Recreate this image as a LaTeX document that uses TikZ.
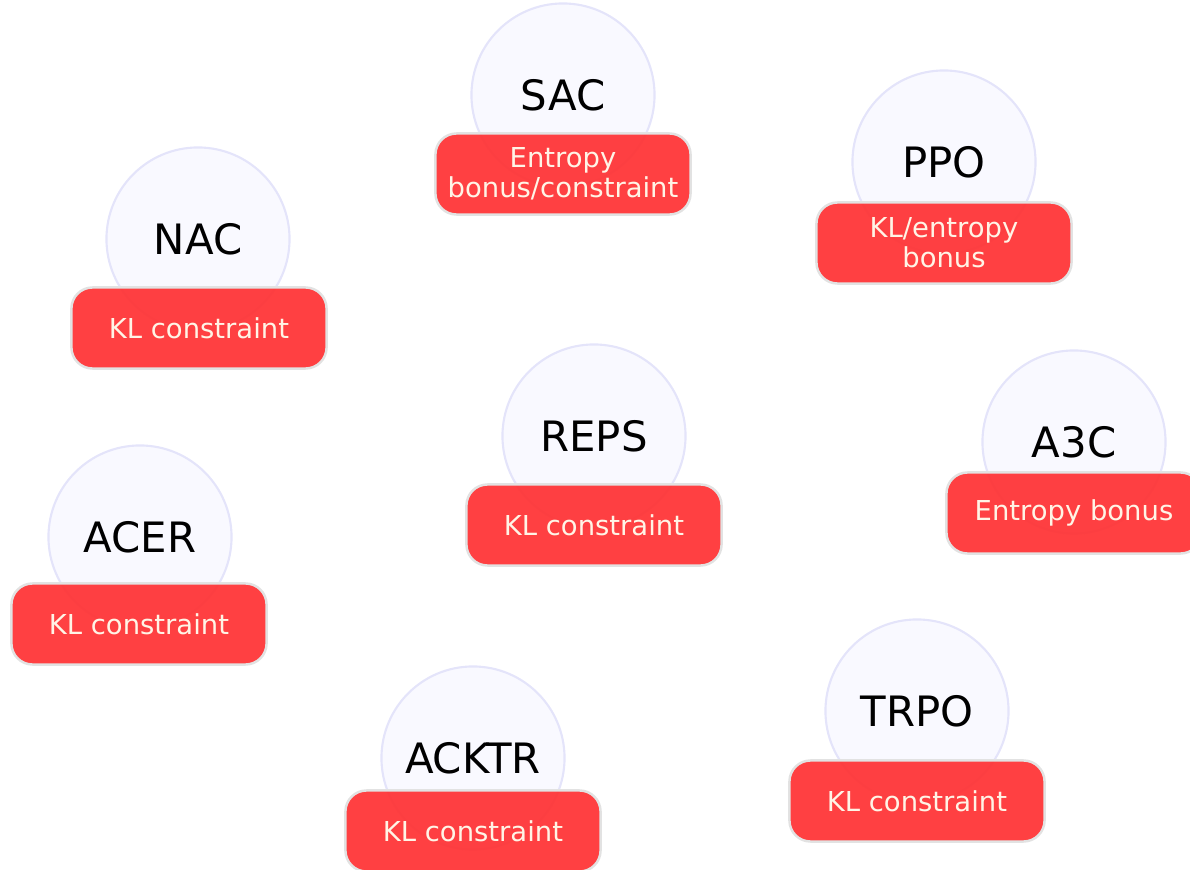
\documentclass[tikz,border=0pt]{standalone}
\usepackage{fontspec}
\setmainfont{DejaVu Sans}
\definecolor{ghostlav}{RGB}{249,249,255}
\definecolor{lavline}{RGB}{228,228,250}
\definecolor{boxred}{RGB}{255,48,50}
\definecolor{boxedge}{RGB}{226,226,226}
\definecolor{cream}{RGB}{255,244,230}

\begin{document}
\begin{tikzpicture}[x=0.01cm,y=-0.01cm,
	algo/.style={circle,draw=lavline,line width=0.6pt,fill=ghostlav,minimum size=1.83cm,inner sep=0pt,font=\fontsize{11.9}{14}\selectfont},
	reg/.style={rectangle,rounded corners=6pt,draw=boxedge,line width=0.7pt,fill=boxred,fill opacity=0.92,text opacity=1,text=cream,minimum width=2.55cm,minimum height=0.81cm,align=center,inner sep=0pt,font=\fontsize{7.8}{8.6}\selectfont}]
\useasboundingbox (0,0) rectangle (1190,870);
% top row
\node[algo] (sac) at (563,95) {SAC};
\node[reg] (sacr) at (563,174) {Entropy\\bonus/constraint};
\node[algo] (ppo) at (944,162) {PPO};
\node[reg] (ppor) at (944,243) {KL/entropy\\bonus};
\node[algo] (nac) at (198,239) {NAC};
\node[reg] (nacr) at (199,328) {KL constraint};
% middle
\node[algo] (reps) at (594,436) {REPS};
\node[reg] (repsr) at (594,525) {KL constraint};
\node[algo] (atc) at (1074,442) {A3C};
\node[reg] (atcr) at (1074,513) {Entropy bonus};
\node[algo] (acer) at (140,537) {ACER};
\node[reg] (acerr) at (139,624) {KL constraint};
% bottom row
\node[algo] (acktr) at (473,758) {ACKTR};
\node[reg] (acktrr) at (473,831) {KL constraint};
\node[algo] (trpo) at (917,711) {TRPO};
\node[reg] (trpor) at (917,801) {KL constraint};
\end{tikzpicture}
\end{document}
